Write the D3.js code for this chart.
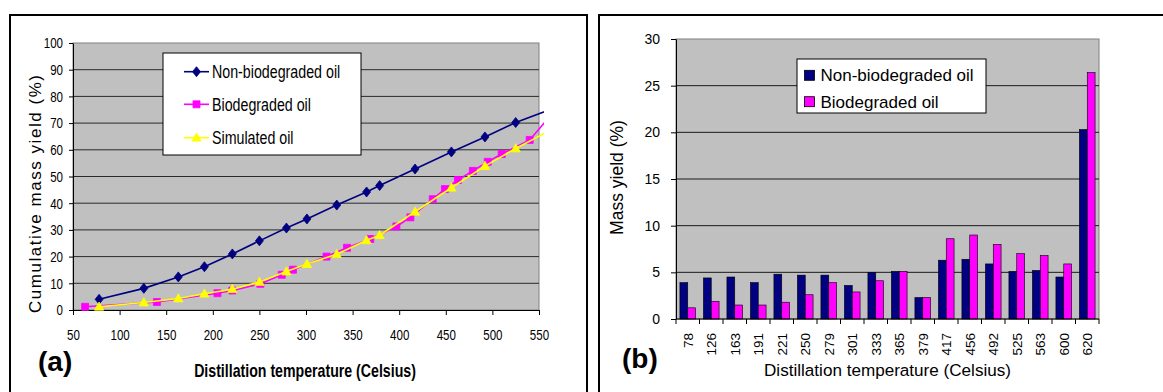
<!DOCTYPE html>
<html>
<head>
<meta charset="utf-8">
<script src="https://cdn.jsdelivr.net/npm/d3@7"></script>
<style>
  body { margin: 0; background: #fff; }
  svg { display: block; }
  text { font-family: Arial, 'Liberation Sans', sans-serif; }
</style>
</head>
<body>
<svg id="chart" width="1163" height="392"></svg>
<script>
// ---- data: panel (a), cumulative mass yield -------------------------------
const nonBioTemp = [78, 126, 163, 191, 221, 250, 279, 301, 333, 365, 379, 417, 456, 492, 525, 563];
const nonBioCum = [4.0, 8.1, 12.4, 16.2, 21.0, 25.9, 30.7, 34.1, 39.3, 44.2, 46.6, 52.8, 59.2, 64.8, 70.2, 75.2];
const bioTemp = [63, 140, 205, 221, 251, 274, 286, 322, 344, 369, 397, 412, 436, 449, 463, 479, 495, 510, 540, 600];
const bioCum = [1.2, 3.0, 6.3, 7.3, 9.8, 13.2, 15.1, 20.0, 23.3, 26.6, 31.3, 34.7, 41.5, 45.3, 48.7, 52.1, 55.5, 58.4, 63.7, 88.2];
const simTemp = [78, 126, 163, 191, 221, 250, 279, 301, 333, 365, 379, 417, 456, 492, 525, 563];
const simCum = [1.2, 2.8, 4.3, 6.1, 7.8, 10.5, 14.4, 17.2, 20.9, 26.1, 28.0, 36.8, 45.8, 53.9, 60.5, 67.5];
const seriesNames = ['Non-biodegraded oil', 'Biodegraded oil', 'Simulated oil'];
const xTicksA = [50, 100, 150, 200, 250, 300, 350, 400, 450, 500, 550];
const yTicksA = [0, 10, 20, 30, 40, 50, 60, 70, 80, 90, 100];

// ---- data: panel (b), mass yield per cut ----------------------------------
const cuts = ['78', '126', '163', '191', '221', '250', '279', '301', '333', '365', '379', '417', '456', '492', '525', '563', '600', '620'];
const nonBioYield = [3.9, 4.4, 4.5, 3.9, 4.8, 4.7, 4.7, 3.6, 5.0, 5.1, 2.3, 6.3, 6.4, 5.9, 5.1, 5.2, 4.5, 20.3];
const bioYield = [1.2, 1.9, 1.5, 1.5, 1.8, 2.6, 3.9, 2.9, 4.1, 5.1, 2.3, 8.6, 9.0, 8.0, 7.0, 6.8, 5.9, 26.4];
const barNames = ['Non-biodegraded oil', 'Biodegraded oil'];
const yTicksB = [0, 5, 10, 15, 20, 25, 30];

const FONT = "Arial, 'Liberation Sans', sans-serif";
const svg = d3.select('#chart');

// Panel (a) text looks horizontally squeezed in the reference
const NARROW = 0.77;
function narrow(sel, k) {
  sel.each(function () {
    const t = d3.select(this);
    const x = +t.attr('x') || 0;
    const y = +t.attr('y') || 0;
    t.attr('x', 0).attr('y', 0).attr('transform', `translate(${x},${y}) scale(${k},1)`);
  });
}

// Panel frames
svg.append('rect').attr('x', 10).attr('y', 15).attr('width', 577).attr('height', 400)
  .attr('fill', 'none').attr('stroke', '#000').attr('stroke-width', 2);
svg.append('rect').attr('x', 599).attr('y', 15).attr('width', 620).attr('height', 400)
  .attr('fill', 'none').attr('stroke', '#000').attr('stroke-width', 2);

// ============================================================================
// Panel (a)
// ============================================================================
const x = d3.scaleLinear().domain([50, 550]).range([73, 539]);
const y = d3.scaleLinear().domain([0, 100]).range([310, 43]);

const ga = svg.append('g').attr('id', 'panel_a');
ga.append('rect')
  .attr('x', x(50)).attr('y', y(100))
  .attr('width', x(550) - x(50)).attr('height', y(0) - y(100))
  .attr('fill', '#c0c0c0').attr('stroke', '#808080');

ga.append('g')
  .selectAll('line')
  .data(yTicksA.filter((d) => d > 0 && d < 100))
  .enter()
  .append('line')
  .attr('x1', x(50)).attr('x2', x(550))
  .attr('y1', (d) => y(d)).attr('y2', (d) => y(d))
  .attr('stroke', '#2a2a2a').attr('stroke-width', 1);

// Axes
const axA_y = ga.append('g')
  .attr('transform', `translate(${x(50)},0)`)
  .call(d3.axisLeft(y).tickValues(yTicksA).tickSize(4).tickSizeOuter(0).tickPadding(6));
const axA_x = ga.append('g')
  .attr('transform', `translate(0,${y(0)})`)
  .call(d3.axisBottom(x).tickValues(xTicksA).tickSize(5).tickSizeOuter(0).tickPadding(14.4));
[axA_y, axA_x].forEach((ax) => {
  ax.attr('font-size', 15).attr('font-family', FONT);
  ax.selectAll('path,line').attr('stroke', '#000');
  ax.selectAll('text').attr('fill', '#000');
  narrow(ax.selectAll('text'), NARROW);
});

// Series
ga.append('clipPath').attr('id', 'clip_a')
  .append('rect').attr('x', 68).attr('y', 38).attr('width', 476).attr('height', 282);
const line = d3.line().x((d) => x(d[0])).y((d) => y(d[1]));

const diamond = 'M0,-5L4,0L0,5L-4,0Z';
const square = 'M-3.5,-3.5H3.5V3.5H-3.5Z';
const triangle = 'M0,-4.8L4.6,3.4H-4.6Z';

const series = [
  { pts: d3.zip(nonBioTemp, nonBioCum), color: '#000080', marker: diamond },
  { pts: d3.zip(bioTemp, bioCum), color: '#ff00ff', marker: square },
  { pts: d3.zip(simTemp, simCum), color: '#ffff00', marker: triangle },
];

const plotA = ga.append('g').attr('clip-path', 'url(#clip_a)');
series.forEach((s) => {
  const g = plotA.append('g');
  g.append('path')
    .attr('d', line(s.pts))
    .attr('fill', 'none')
    .attr('stroke', s.color)
    .attr('stroke-width', 1.6);
  g.selectAll('path.m')
    .data(s.pts)
    .enter()
    .append('path')
    .attr('class', 'm')
    .attr('d', s.marker)
    .attr('transform', (d) => `translate(${x(d[0])},${y(d[1])})`)
    .attr('fill', s.color)
    .attr('stroke', s.color)
    .attr('stroke-width', 0.8);
});

// Legend
const legA = ga.append('g');
legA.append('rect').attr('x', 163).attr('y', 53).attr('width', 198).attr('height', 102)
  .attr('fill', '#fff').attr('stroke', '#000');
const legRowsA = [71.7, 104.3, 137.7];
series.forEach((s, i) => {
  const cy = legRowsA[i];
  legA.append('line').attr('x1', 184).attr('x2', 209).attr('y1', cy).attr('y2', cy)
    .attr('stroke', s.color).attr('stroke-width', 1.6);
  legA.append('path').attr('d', s.marker).attr('transform', `translate(196.5,${cy})`)
    .attr('fill', s.color).attr('stroke', s.color).attr('stroke-width', 0.8);
  legA.append('text').attr('x', 212).attr('y', cy + 6.6)
    .attr('font-size', 18.5).text(seriesNames[i]);
});
narrow(legA.selectAll('text'), NARROW);

// Titles
ga.append('text')
  .attr('transform', 'translate(35,194) rotate(-90)')
  .attr('text-anchor', 'middle').attr('dy', '0.35em')
  .attr('font-size', 17)
  .attr('textLength', 238).attr('lengthAdjust', 'spacing')
  .text('Cumulative mass yield (%)');
const titleA = ga.append('text')
  .attr('x', 305).attr('y', 376.5)
  .attr('text-anchor', 'middle').attr('font-weight', 'bold').attr('font-size', 17.7)
  .text('Distillation temperature (Celsius)');
narrow(titleA, 0.8);
ga.append('text').attr('x', 38).attr('y', 371)
  .attr('font-weight', 'bold').attr('font-size', 28).text('(a)');

// ============================================================================
// Panel (b)
// ============================================================================
const xb = d3.scaleBand().domain(cuts).range([676, 1099]).paddingInner(1 / 3).paddingOuter(1 / 6);
const xs = d3.scaleBand().domain(barNames).range([0, xb.bandwidth()]);
const yb = d3.scaleLinear().domain([0, 30]).range([319, 39]);
const barColors = ['#000080', '#ff00ff'];

const gb = svg.append('g').attr('id', 'panel_b');
gb.append('rect')
  .attr('x', 676).attr('y', yb(30))
  .attr('width', 1099 - 676).attr('height', yb(0) - yb(30))
  .attr('fill', '#c0c0c0').attr('stroke', '#808080');

gb.append('g')
  .selectAll('line')
  .data(yTicksB.filter((d) => d > 0 && d < 30))
  .enter()
  .append('line')
  .attr('x1', 676).attr('x2', 1099)
  .attr('y1', (d) => yb(d)).attr('y2', (d) => yb(d))
  .attr('stroke', '#1a1a1a').attr('stroke-width', 1);

// Bars
const barData = cuts.map((c, i) => ({ cut: c, vals: [nonBioYield[i], bioYield[i]] }));
gb.append('g')
  .selectAll('g')
  .data(barData)
  .enter()
  .append('g')
  .attr('transform', (d) => `translate(${xb(d.cut)},0)`)
  .selectAll('rect')
  .data((d) => d.vals.map((v, j) => ({ name: barNames[j], v: v, j: j })))
  .enter()
  .append('rect')
  .attr('x', (d) => xs(d.name))
  .attr('y', (d) => yb(d.v))
  .attr('width', xs.bandwidth())
  .attr('height', (d) => yb(0) - yb(d.v))
  .attr('fill', (d) => barColors[d.j])
  .attr('stroke', '#000')
  .attr('stroke-width', 0.6);

// Axes
const axB_y = gb.append('g')
  .attr('transform', 'translate(676,0)')
  .call(d3.axisLeft(yb).tickValues(yTicksB).tickSize(5).tickSizeOuter(0).tickPadding(11));
axB_y.attr('font-size', 14).attr('font-family', FONT);
axB_y.selectAll('path,line').attr('stroke', '#000');
axB_y.selectAll('text').attr('fill', '#000');

// x axis: ticks sit between the categories
const bounds = cuts.map((c) => xb(c) - (xb.step() - xb.bandwidth()) / 2).concat([1099]);
const axB_x = gb.append('g');
axB_x.append('line').attr('x1', 676).attr('x2', 1099).attr('y1', yb(0)).attr('y2', yb(0))
  .attr('stroke', '#000');
axB_x.selectAll('line.tick')
  .data(bounds)
  .enter()
  .append('line')
  .attr('class', 'tick')
  .attr('x1', (d) => d).attr('x2', (d) => d)
  .attr('y1', yb(0)).attr('y2', yb(0) + 5)
  .attr('stroke', '#000');
axB_x.selectAll('text')
  .data(cuts)
  .enter()
  .append('text')
  .attr('transform', (d) => `translate(${xb(d) + xb.bandwidth() / 2 + 5},333) rotate(-90)`)
  .attr('text-anchor', 'end')
  .attr('font-size', 13.5)
  .text((d) => d);

// Legend
const legB = gb.append('g');
legB.append('rect').attr('x', 797).attr('y', 59).attr('width', 189).attr('height', 54)
  .attr('fill', '#fff').attr('stroke', '#000');
[75.3, 101.7].forEach((cy, i) => {
  legB.append('rect').attr('x', 804.5).attr('y', cy - 5).attr('width', 10).attr('height', 10)
    .attr('fill', barColors[i]).attr('stroke', '#000').attr('stroke-width', 0.8);
  legB.append('text').attr('x', 820.5).attr('y', cy + 6)
    .attr('font-size', 17).text(barNames[i]);
});

// Titles
gb.append('text')
  .attr('transform', 'translate(616.7,177.5) rotate(-90)')
  .attr('text-anchor', 'middle').attr('dy', '0.35em')
  .attr('font-size', 17.5)
  .text('Mass yield (%)');
gb.append('text').attr('x', 887.5).attr('y', 376)
  .attr('text-anchor', 'middle').attr('font-size', 17.1)
  .text('Distillation temperature (Celsius)');
gb.append('text').attr('x', 622).attr('y', 367.5)
  .attr('font-weight', 'bold').attr('font-size', 28).text('(b)');
</script>
</body>
</html>
